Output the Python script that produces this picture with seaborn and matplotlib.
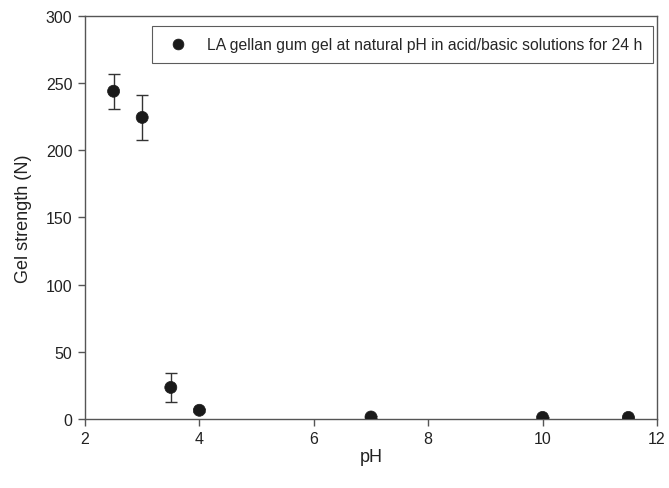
import matplotlib
matplotlib.use("Agg")
import matplotlib.pyplot as plt
import seaborn as sns
import pandas as pd

ph = [2.5, 3.0, 3.5, 4.0, 7.0, 10.0, 11.5]
strength = [244.0, 224.5, 23.5, 6.5, 1.5, 1.2, 1.2]
err = [13.0, 17.0, 10.5, 1.0, 0.5, 0.5, 0.5]
label = "LA gellan gum gel at natural pH in acid/basic solutions for 24 h"

sns.set_style("white")
plt.rcParams['font.family'] = ['Liberation Sans', 'DejaVu Sans']

df = pd.DataFrame({"pH": ph, "strength": strength, "err": err, "series": label})

fig = plt.figure(figsize=(6.69, 4.89), dpi=100)
ax = fig.add_axes([85/669, 1-420/489, (657-85)/669, (420-17)/489])

ax.errorbar(df["pH"], df["strength"], yerr=df["err"], fmt='none',
            ecolor='#333333', elinewidth=1.0, capsize=4, capthick=1.0, zorder=2)
sns.scatterplot(data=df, x="pH", y="strength", hue="series", palette=['#1a1a1a'],
                s=75, edgecolor='#1a1a1a', linewidth=0.5, ax=ax, zorder=3)

ax.set_xlim(2, 12)
ax.set_ylim(0, 300)
ax.set_xticks([2, 4, 6, 8, 10, 12])
ax.set_yticks([0, 50, 100, 150, 200, 250, 300])
for s in ax.spines.values():
    s.set_color('#555555')
    s.set_linewidth(1.0)
ax.tick_params(axis='both', which='major', direction='out', length=5, width=1.0,
               color='#555555', labelsize=11.5, labelcolor='#222222',
               bottom=True, left=True, top=False, right=False, pad=4)
ax.set_xlabel("pH", fontsize=13, color='#222222', labelpad=1)
ax.set_ylabel("Gel strength (N)", fontsize=13, color='#222222', labelpad=10)

leg = ax.legend(loc='upper right', bbox_to_anchor=(0.993, 0.975), frameon=True,
                fancybox=False, fontsize=11.3, handletextpad=0.8, borderpad=0.7,
                borderaxespad=0, markerscale=0.9)
leg.get_frame().set_edgecolor('#333333')
leg.get_frame().set_linewidth(0.8)

fig.savefig("out.png", dpi=100)
